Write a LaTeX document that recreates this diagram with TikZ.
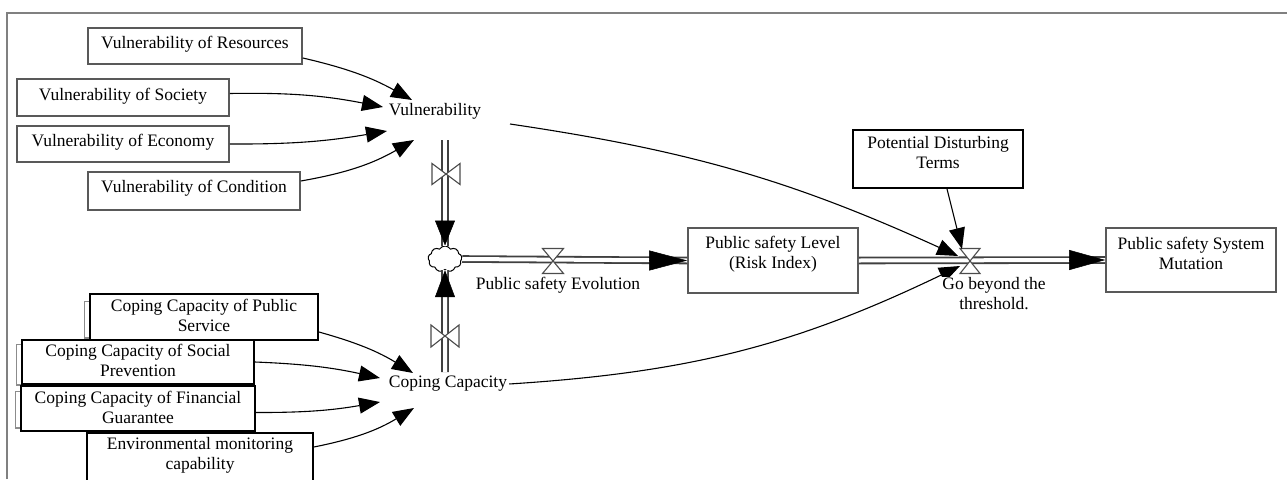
\documentclass[tikz,border=0pt]{standalone}
\usepackage{fontspec}
\setmainfont{Liberation Serif}
\usetikzlibrary
  {
    arrows.meta,    % triangle tips
    shapes.symbols, % cloud at the source
  }

\begin{document}
\begin{tikzpicture}
    [
      x=1pt, y=1pt,
      font=\fontsize{17.5}{20}\selectfont,
      auxbox/.style=
        {
          rectangle,
          draw=black!65,
          line width=1.6pt,
          fill=white,
          inner sep=0pt,
          align=center,
        },
      inputbox/.style=
        {
          rectangle,
          draw=black,
          line width=1.8pt,
          fill=white,
          inner sep=0pt,
          align=center,
        },
      link/.style=
        {
          -{Triangle[length=21pt,width=16pt]},
          line width=1.1pt,
          draw=black,
        },
      pipe/.style=
        {
          draw=black!75,
          double=white,
          line width=1.8pt,
          double distance=4pt,
        },
      pipetip/.style=
        {
          -{Triangle[length=#1,width=20pt]},
          line width=0.5pt,
        },
      pipetip/.default=36pt,
      valve/.style=
        {
          draw=black!70,
          fill=white,
          line width=1.1pt,
          line join=miter,
        },
      stackline/.style=
        {
          draw=black!45,
          line width=1.2pt,
        },
    ]
    \useasboundingbox (0,0) rectangle (1287,-479);

    % frame
    \draw [black!50, line width=2.5pt] (7,-479) -- (7,-13) -- (1287,-13);

    % vulnerability side
    \node (vres) [auxbox, minimum width=214pt, text height=20pt, text depth=16pt]
      at (195,-46) {Vulnerability of Resources};
    \node (vsoc) [auxbox, minimum width=212pt, text height=21pt, text depth=16pt]
      at (123,-97.5) {Vulnerability of Society};
    \node (veco) [auxbox, minimum width=212pt, text height=20pt, text depth=16pt]
      at (123,-144) {Vulnerability of Economy};
    \node (vcon) [auxbox, minimum width=212pt, text height=20pt, text depth=18pt]
      at (194,-191) {Vulnerability of Condition};
    \node (vul) [inner sep=2pt] at (435,-111) {Vulnerability};

    % coping side
    \node (cpub) [inputbox, minimum width=228pt, text height=37pt, text depth=9pt]
      at (204,-317) {Coping Capacity of Public\\Service};
    \draw [stackline] ([yshift=-8pt]cpub.north west) -- ++(-5,0) |- ([yshift=3pt]cpub.south west);
    \node (csoc) [inputbox, minimum width=232pt, text height=36pt, text depth=8pt]
      at (138,-362) {Coping Capacity of Social\\Prevention};
    \draw [stackline] ([yshift=-5pt]csoc.north west) -- ++(-5,0) |- ([yshift=0pt]csoc.south west);
    \node (cfin) [inputbox, minimum width=234pt, text height=37pt, text depth=8pt]
      at (138,-408.5) {Coping Capacity of Financial\\Guarantee};
    \draw [stackline] ([yshift=-6pt]cfin.north west) -- ++(-5,0) |- ([yshift=4pt]cfin.south west);
    \node (cenv) [inputbox, minimum width=226pt, text height=36pt, text depth=18pt]
      at (200,-460) {Environmental monitoring\\capability};
    \node (cc) [inner sep=2pt] at (448,-384) {Coping Capacity};

    % stocks and flows
    \node (lvl) [auxbox, minimum width=170pt, text height=40pt, text depth=25pt]
      at (773,-260.5) {Public safety Level\\(Risk Index)};
    \node (mut) [auxbox, minimum width=170pt, text height=41pt, text depth=23pt]
      at (1191,-260) {Public safety System\\Mutation};
    \node (pdt) [inputbox, minimum width=170pt, text height=38pt, text depth=20pt]
      at (938,-159) {Potential Disturbing\\Terms};
    \node (cloud) [cloud, cloud puffs=9, cloud puff arc=120, aspect=1.3, draw,
      line width=1pt, minimum width=34pt, minimum height=26pt, inner sep=0pt]
      at (445,-259) {};

    \coordinate (vsrc) at (445,-140);
    \coordinate (csrc) at (445,-372);
    \coordinate (vtop) at (446,-174);
    \coordinate (vbot) at (445,-336);
    \coordinate (vevo) at (553,-261);
    \coordinate (thr) at (970,-261);

    \draw [pipe] (vsrc) -- (cloud.north);
    \draw [pipe] (csrc) -- (cloud.south);
    \draw [pipe] (cloud.east) -- (lvl.west);
    \draw [pipe] (lvl.east) -- (mut.west);
    \draw [pipetip=25pt] ([yshift=5pt]cloud.north) -- (cloud.north);
    \draw [pipetip=27pt] ([yshift=-5pt]cloud.south) -- (cloud.south);
    \draw [pipetip=38pt] ([xshift=-5pt]lvl.west) -- (lvl.west);
    \draw [pipetip] ([xshift=-5pt]mut.west) -- (mut.west);

    \draw [valve] (vtop) -- ++(-14,10.5) -- ++(0,-21) -- cycle
                  (vtop) -- ++(14,10.5) -- ++(0,-21) -- cycle;
    \draw [valve] (vbot) -- ++(-14,11) -- ++(0,-22) -- cycle
                  (vbot) -- ++(14,11) -- ++(0,-22) -- cycle;
    \draw [valve] (vevo) -- ++(-10.5,12.5) -- ++(21,0) -- cycle
                  (vevo) -- ++(-10.5,-12.5) -- ++(21,0) -- cycle;
    \draw [valve] (thr) -- ++(-10,12.5) -- ++(20,0) -- cycle
                  (thr) -- ++(-10,-12.5) -- ++(20,0) -- cycle;
    \node (evo) [inner sep=1pt] at (558,-285) {Public safety Evolution};

    % links
    \draw [link] ([yshift=-12pt]vres.east) to [bend left=8] ([shift={(-23,11)}]vul.center);
    \draw [link] ([yshift=4pt]vsoc.east) to [bend left=6] ([shift={(-52,4)}]vul.center);
    \draw [link] (veco.east) to [bend right=5] ([shift={(-48,-20)}]vul.center);
    \draw [link] ([yshift=10pt]vcon.east) to [bend right=10] ([shift={(-21,-29)}]vul.center);

    \draw [link] ([yshift=-15pt]cpub.east) to [bend left=8] ([shift={(-35,11)}]cc.center);
    \draw [link] (csoc.east) to [bend left=5] ([shift={(-68,6)}]cc.center);
    \draw [link] ([yshift=-4pt]cfin.east) to [bend right=5] ([shift={(-68,-18)}]cc.center);
    \draw [link] ([yshift=13pt]cenv.east) to [bend right=10] ([shift={(-34,-24)}]cc.center);

    \draw [link] ([shift={(75,-13)}]vul.center) to [bend left=8] ([shift={(-12,5)}]thr);
    \draw [link] (cc.east) to [bend right=11] ([shift={(-10,-5)}]thr);
    \draw [link] ([xshift=9pt]pdt.south) -- ([shift={(-8,12)}]thr);

    \node (gbt) [fill=white, inner sep=1pt, align=center] at (994,-294)
      {Go beyond the\\threshold.};
\end{tikzpicture}
\end{document}
